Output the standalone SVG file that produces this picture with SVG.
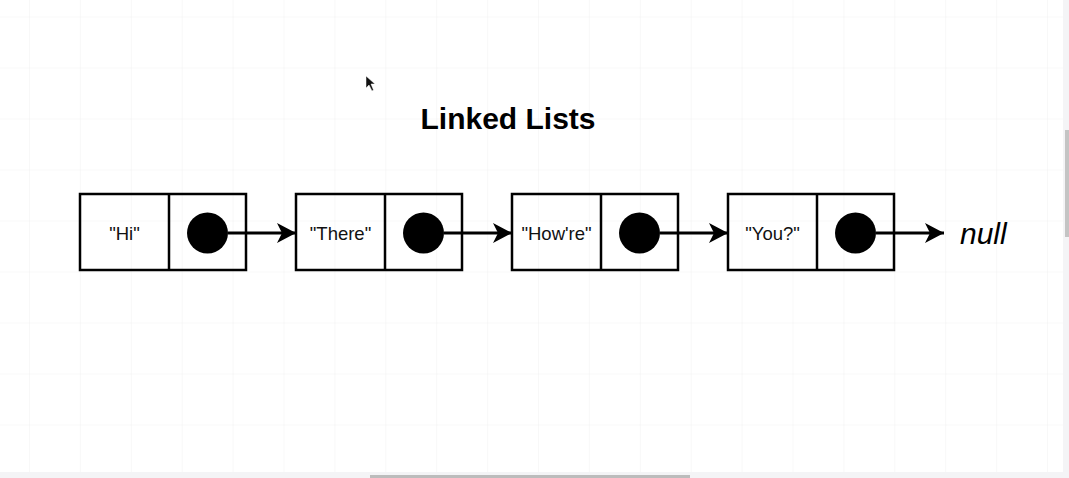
<svg xmlns="http://www.w3.org/2000/svg" width="1069" height="478" viewBox="0 0 1069 478">
  <style>
    .box { fill: none; stroke: #000; stroke-width: 2.5; }
    .dot { fill: #000; }
    .lbl { font-family: "Liberation Sans", Arial, sans-serif; font-size: 18.5px; fill: #111; text-anchor: middle; }
    .title { font-family: "Liberation Sans", Arial, sans-serif; font-size: 30px; font-weight: bold; fill: #000; text-anchor: middle; }
    .null { font-family: "Liberation Sans", Arial, sans-serif; font-size: 30px; font-style: italic; fill: #000; }
    .edge { stroke: #000; stroke-width: 2.8; fill: none; marker-end: url(#arrow); }
  </style>
  <defs>
    <pattern id="grid" patternUnits="userSpaceOnUse" x="29" y="16.5" width="50.9" height="51">
      <path d="M0 0 V51 M0 0 H50.9" stroke="#f1f1f1" stroke-width="1" fill="none"/>
    </pattern>
    <marker id="arrow" markerUnits="userSpaceOnUse" markerWidth="22" markerHeight="22" viewBox="0 0 22 22" refX="20" refY="11" orient="auto">
      <path d="M1 1 L20 11 L1 21 L6 11 Z" fill="#000"/>
    </marker>
  </defs>
  <rect x="0" y="0" width="1069" height="478" fill="#ffffff"/>
  <rect x="0" y="0" width="1063" height="472" fill="url(#grid)"/>
  <rect x="1063" y="0" width="6" height="478" fill="#f4f4f6"/>
  <rect x="1065" y="130" width="4" height="107" fill="#c4c4c4"/>
  <rect x="0" y="472" width="1069" height="6" fill="#f4f4f6"/>
  <rect x="370" y="475" width="320" height="3" fill="#bcbcbc"/>

  <g id="cursor">
    <path d="M366 76 L366 88 L369 85 L372 91 L373.5 90 L371 84 L375 84 Z" fill="#111" stroke="#fff" stroke-width="0.5"/>
  </g>

  <g id="title">
    <text class="title" x="508" y="129">Linked Lists</text>
  </g>

  <g id="node-hi">
    <rect class="box" x="80" y="194" width="166" height="76"/>
    <line class="box" x1="169" y1="194" x2="169" y2="270"/>
    <text class="lbl" x="124.5" y="240">"Hi"</text>
    <circle class="dot" cx="207.5" cy="233" r="20.5"/>
  </g>

  <g id="node-there">
    <rect class="box" x="296" y="194" width="166" height="76"/>
    <line class="box" x1="385" y1="194" x2="385" y2="270"/>
    <text class="lbl" x="340.5" y="240">"There"</text>
    <circle class="dot" cx="423.5" cy="233" r="20.5"/>
  </g>

  <g id="node-howre">
    <rect class="box" x="512" y="194" width="166" height="76"/>
    <line class="box" x1="601" y1="194" x2="601" y2="270"/>
    <text class="lbl" x="556.5" y="240">"How're"</text>
    <circle class="dot" cx="639.5" cy="233" r="20.5"/>
  </g>

  <g id="node-you">
    <rect class="box" x="728" y="194" width="166" height="76"/>
    <line class="box" x1="817" y1="194" x2="817" y2="270"/>
    <text class="lbl" x="772.5" y="240">"You?"</text>
    <circle class="dot" cx="855.5" cy="233" r="20.5"/>
  </g>

  <g id="node-null">
    <text class="null" x="960" y="244">null</text>
  </g>

  <g id="connectors">
    <line class="edge" x1="228" y1="233" x2="296" y2="233"/>
    <line class="edge" x1="444" y1="233" x2="512" y2="233"/>
    <line class="edge" x1="660" y1="233" x2="728" y2="233"/>
    <line class="edge" x1="876" y1="233" x2="944" y2="233"/>
  </g>
</svg>
